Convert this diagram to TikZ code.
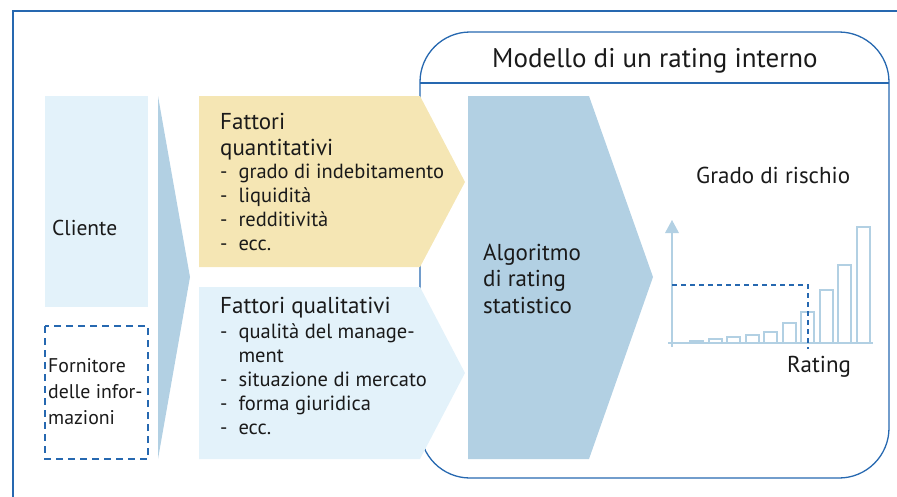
\documentclass[tikz,border=0pt]{standalone}
\usepackage{fontspec}
\setmainfont{PT Sans}
\definecolor{frameblue}{RGB}{38,104,176}
\definecolor{paleblue}{RGB}{227,242,250}
\definecolor{midblue}{RGB}{178,208,227}
\definecolor{sand}{RGB}{245,230,180}
\definecolor{ink}{RGB}{26,26,26}
\tikzset{
  txt/.style={anchor=base west,inner sep=0pt,text=ink,font=\fontsize{20.5}{24}\selectfont},
  bigtxt/.style={txt,font=\fontsize{23}{26.5}\selectfont},
  barline/.style={draw=midblue,line width=1.3pt},
}

\begin{document}
\begin{tikzpicture}[x=1pt,y=-1pt]
\newcommand{\arrowtip}{465}
\newcommand{\leftx}{199}
\useasboundingbox (0,0) rectangle (897,496);
% frame
\draw [frameblue,line width=1.5pt] (13,520) -- (13,11) -- (920,11);
\draw [frameblue,line width=1.3pt,rounded corners=50pt] (420,478) rectangle (889,32);
\draw [frameblue,line width=1.3pt] (420,83) -- (889,83);
\node [txt,font=\fontsize{27}{32}\selectfont] (titel) at (492,67) {Modello di un rating interno};
% left column
\fill [paleblue] (45,96) rectangle (148,307);
\draw [frameblue,line width=1.3pt,dash pattern=on 7pt off 5pt] (45,326) rectangle (148,459);
\fill [midblue] (158,96) -- (190,277) -- (158,459) -- cycle;
\node [txt,font=\fontsize{21.5}{26}\selectfont] (cliente) at (52,235) {Cliente};
\node [txt,font=\fontsize{19.8}{26}\selectfont] (fornitore) at (48,372) {\begin{tabular}[t]{@{}l@{}}Fornitore\\delle infor-\\mazioni\end{tabular}};
% factors
\fill [sand] (\leftx,96) -- (420,96) -- (\arrowtip,182) -- (420,267) -- (\leftx,267) -- cycle;
\fill [paleblue] (\leftx,287) -- (420,287) -- (\arrowtip,373) -- (420,459) -- (\leftx,459) -- cycle;
\node [bigtxt] (quantihead) at (220,129) {\begin{tabular}[t]{@{}l@{}}Fattori\\quantitativi\end{tabular}};
\node [txt] (quanti) at (220,178) {\begin{tabular}[t]{@{}l@{\ \ }l@{}}
  - & grado di indebitamento\\
  - & liquidità\\
  - & redditività\\
  - & ecc.\end{tabular}};
\node [bigtxt] (qualihead) at (220,313) {Fattori qualitativi};
\node [txt] (quali) at (220,338) {\begin{tabular}[t]{@{}l@{\ \ }l@{}}
  - & qualità del manage-\\
    & ment\\
  - & situazione di mercato\\
  - & forma giuridica\\
  - & ecc.\end{tabular}};
% algorithm
\fill [midblue] (468,96) -- (589,96) -- (653,277) -- (589,459) -- (468,459) -- cycle;
\node [bigtxt] (algo) at (483,260) {\begin{tabular}[t]{@{}l@{}}Algoritmo\\di rating\\statistico\end{tabular}};
% chart
\node [bigtxt] (rischio) at (696,183) {Grado di rischio};
\draw [barline] (672,347) -- (672,230);
\fill [midblue] (665,233) -- (672,220) -- (679,233) -- cycle;
\draw [barline] (668,343) -- (873,343);
\foreach \bx/\by in {690/341,709/339,727/337,746/335,764/332,783/323,801/312,820/290,838/265,857/227}
  \draw [barline] (\bx,343) rectangle (\bx+13,\by);
\draw [frameblue,line width=1.8pt,dash pattern=on 5pt off 4pt] (672,285) -- (808,285) -- (808,349);
\node [bigtxt] (rating) at (787,372) {Rating};
\end{tikzpicture}
\end{document}
